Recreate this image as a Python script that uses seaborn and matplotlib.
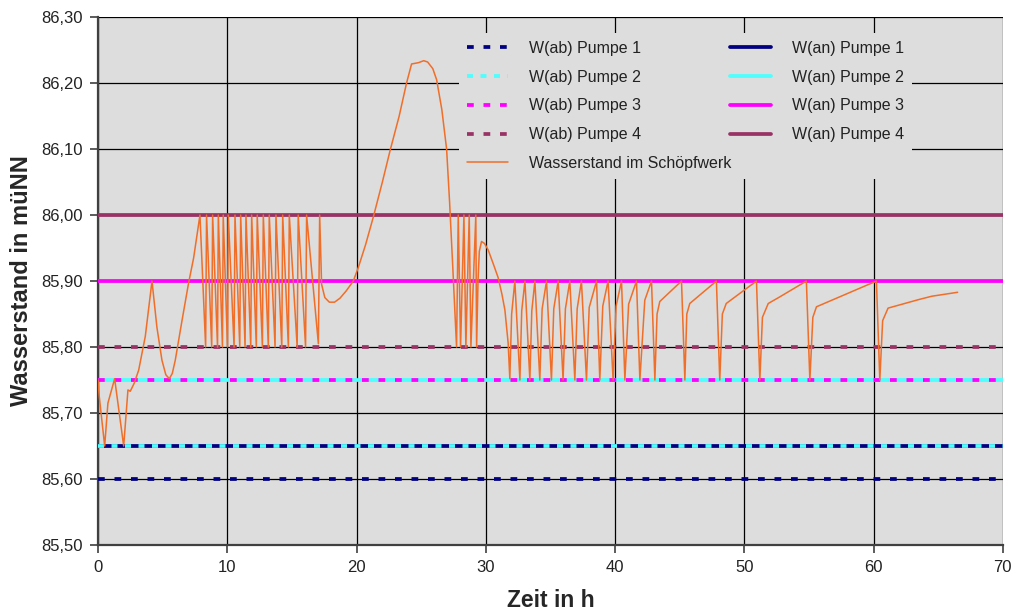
import numpy as np
import pandas as pd
import seaborn as sns
import matplotlib
matplotlib.use("Agg")
import matplotlib.pyplot as plt
from matplotlib.ticker import FuncFormatter, MultipleLocator

# Wasserstand im Schoepfwerk (Zeit in h, Stand in muNN)
zeit = [0.0, 0.1, 0.52, 0.77, 1.29, 1.99, 2.32, 2.5, 2.8, 3.15, 3.66, 4.18, 4.56, 4.95, 5.25,
        5.52, 5.75, 5.98, 6.5, 7.01, 7.4, 7.89,
        8.33, 8.40, 8.80, 8.87, 9.25, 9.31, 9.63, 9.69, 10.02, 10.08, 10.53, 10.60, 10.97, 11.04,
        11.38, 11.45, 11.82, 11.89, 12.25, 12.32, 12.72, 12.79, 13.18, 13.25, 13.70, 13.77,
        14.22, 14.29, 14.73, 14.80, 15.41, 15.49, 16.06, 16.14, 17.05, 17.15,
        17.3, 17.55, 17.9, 18.3, 18.72, 19.2, 19.75, 20.13, 20.7, 21.3, 22.0, 22.6, 23.3, 23.87,
        24.26, 24.8, 25.2, 25.5, 25.9, 26.2, 26.6, 26.97, 27.2, 27.45, 27.74,
        27.87, 28.05, 28.31, 28.46, 28.72, 28.85, 29.23, 29.29,
        29.4, 29.5, 29.67, 29.9, 30.19, 30.6, 30.96, 31.25, 31.48, 31.73, 31.86,
        32.0, 32.25, 32.64, 32.78, 33.03, 33.41, 33.56, 33.80, 34.18, 34.36, 34.70,
        35.08, 35.26, 35.60, 35.98, 36.16, 36.50, 36.89, 37.07, 37.40, 37.79, 38.0, 38.57,
        38.82, 39.05, 39.46, 39.85, 40.08, 40.50, 40.76, 41.05, 41.66, 41.92, 42.3, 42.82,
        43.08, 43.25, 43.46, 45.14, 45.40, 45.55, 45.78, 47.84, 48.10, 48.3, 48.6, 50.94,
        51.20, 51.4, 51.85, 52.74, 54.80, 55.07, 55.3, 55.58, 60.22,
        60.48, 60.7, 61.12, 63.5, 64.5, 66.5]
stand = [85.75, 85.725, 85.65, 85.715, 85.752, 85.65, 85.735, 85.733, 85.745, 85.765, 85.816,
         85.90, 85.83, 85.78, 85.758, 85.752, 85.76, 85.78, 85.84, 85.897, 85.935, 86.00,
         85.80, 86.00, 85.80, 86.00, 85.80, 86.00, 85.80, 86.00, 85.80, 86.00, 85.80, 86.00,
         85.80, 86.00, 85.80, 86.00, 85.80, 86.00, 85.80, 86.00, 85.80, 86.00, 85.80, 86.00,
         85.80, 86.00, 85.80, 86.00, 85.80, 86.00, 85.80, 86.00, 85.80, 86.00, 85.805, 86.00,
         85.895, 85.875, 85.868, 85.868, 85.874, 85.885, 85.90, 85.92, 85.955, 85.997, 86.05,
         86.098, 86.15, 86.20, 86.229, 86.231, 86.234, 86.232, 86.222, 86.205, 86.16, 86.10,
         86.02, 85.92, 85.80,
         86.00, 85.80, 86.00, 85.80, 86.00, 85.80, 86.00, 85.80,
         85.90, 85.945, 85.96, 85.957, 85.947, 85.925, 85.905, 85.88, 85.856, 85.806, 85.752,
         85.85, 85.90, 85.75, 85.855, 85.90, 85.75, 85.855, 85.90, 85.75, 85.858, 85.90,
         85.75, 85.858, 85.90, 85.75, 85.858, 85.90, 85.75, 85.858, 85.90, 85.75, 85.86, 85.90,
         85.75, 85.862, 85.90, 85.75, 85.862, 85.90, 85.75, 85.865, 85.90, 85.75, 85.871, 85.90,
         85.75, 85.85, 85.869, 85.90, 85.75, 85.85, 85.866, 85.90, 85.75, 85.85, 85.866, 85.90,
         85.75, 85.845, 85.866, 85.876, 85.90, 85.75, 85.845, 85.861, 85.90,
         85.75, 85.84, 85.859, 85.872, 85.877, 85.883]

# Schaltpunkte der Pumpen
pumpen = ["Pumpe 1", "Pumpe 2", "Pumpe 3", "Pumpe 4"]
w_ab = [85.60, 85.65, 85.75, 85.80]
w_an = [85.65, 85.75, 85.90, 86.00]
farben = ["#000080", "#4DFFFF", "#FF00FF", "#993366"]
zeit_bereich = [0, 70]

sns.set_style("whitegrid", {"axes.facecolor": "#DDDDDD", "grid.color": "black",
                            "axes.edgecolor": "#404040"})
plt.rcParams["font.family"] = ["Liberation Sans", "DejaVu Sans"]

fig, ax = plt.subplots(figsize=(10.13, 6.12), dpi=100)
fig.subplots_adjust(left=0.0967, right=0.990, top=0.972, bottom=0.1095)

lw_level = 2.7
ab_dash = [(0, (1.8, 2.6)), (0, (1.6, 2.0)), (0, (1.8, 2.6)), (0, (1.8, 2.6))]
handles_ab, handles_an = [], []
for i in range(4):
    sns.lineplot(x=zeit_bereich, y=[w_an[i]] * 2, color=farben[i], lw=lw_level, ax=ax, zorder=3)
    handles_an.append(ax.lines[-1])
for i in range(4):
    sns.lineplot(x=zeit_bereich, y=[w_ab[i]] * 2, color=farben[i], lw=lw_level,
                 linestyle=ab_dash[i], ax=ax, zorder=4)
    handles_ab.append(ax.lines[-1])

sns.lineplot(x=zeit, y=stand, color="#F06E28", lw=1.1, sort=False, estimator=None,
             ax=ax, zorder=5)
h_wasser = ax.lines[-1]

ax.set_xlim(0, 70)
ax.set_ylim(85.5, 86.3)
ax.xaxis.set_major_locator(MultipleLocator(10))
ax.yaxis.set_major_locator(MultipleLocator(0.1))
ax.yaxis.set_major_formatter(FuncFormatter(lambda v, p: f"{v:.2f}".replace(".", ",")))
ax.grid(True, color="black", lw=0.9)
ax.set_axisbelow(True)
for s in ["top", "right"]:
    ax.spines[s].set_visible(False)
for s in ["left", "bottom"]:
    ax.spines[s].set_linewidth(1.6)
    ax.spines[s].set_color("#404040")
ax.tick_params(axis="both", which="major", length=6, width=1.2, color="#404040",
               labelsize=12, labelcolor="#222222", left=True, bottom=True, pad=5)
ax.set_xlabel("Zeit in h", fontsize=16.5, fontweight="bold", labelpad=10)
ax.set_ylabel("Wasserstand in müNN", fontsize=17, fontweight="bold", labelpad=6)
fig.canvas.draw()
ax.yaxis.get_gridlines()[-1].set_visible(False)

handles = handles_ab + [h_wasser] + handles_an
labels = [f"W(ab) {p}" for p in pumpen] + ["Wasserstand im Schöpfwerk"] + \
         [f"W(an) {p}" for p in pumpen]
leg = ax.legend(handles, labels, ncol=2, loc="upper left", bbox_to_anchor=(0.39, 0.985),
                fontsize=11.5, frameon=True, facecolor="#DDDDDD", edgecolor="none",
                framealpha=1, fancybox=False, handlelength=2.6, handletextpad=1.3,
                columnspacing=-0.1, labelspacing=0.86, borderpad=0.5)
leg.set_zorder(10)
for t in leg.get_texts():
    t.set_color("#222222")

fig.savefig("out.png", dpi=100)
